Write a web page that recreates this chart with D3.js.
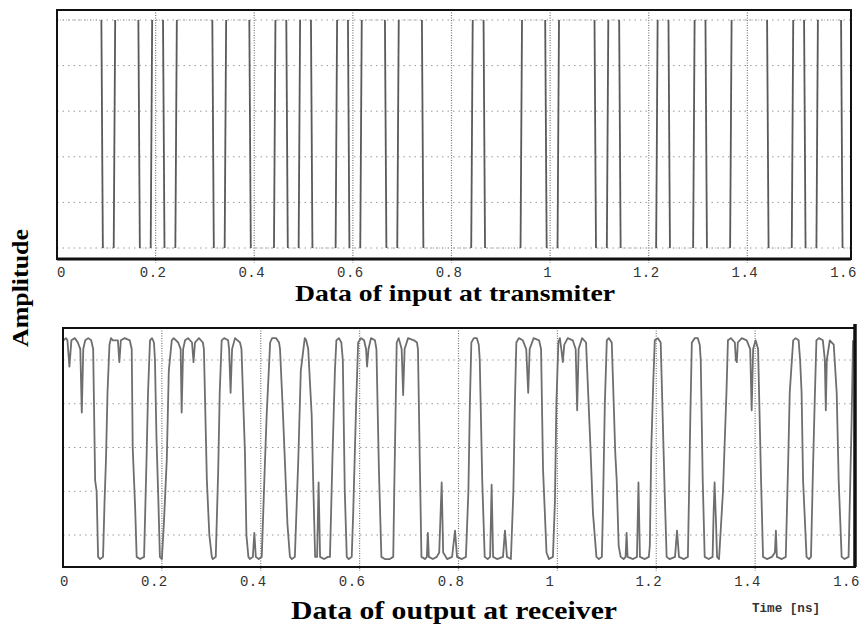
<!DOCTYPE html>
<html>
<head>
<meta charset="utf-8">
<script src="https://cdn.jsdelivr.net/npm/d3@7/dist/d3.min.js"></script>
<style>
  body { margin: 0; background: #fff; }
  svg { display: block; }
</style>
</head>
<body>
<svg id="chart" width="867" height="628"></svg>
<script>
// time axis ticks (ns)
const timeTicks = [0, 0.2, 0.4, 0.6, 0.8, 1, 1.2, 1.4, 1.6];
const timeTickLabels = ["0", "0.2", "0.4", "0.6", "0.8", "1", "1.2", "1.4", "1.6"];

// horizontal grid levels
const inputGridLevels = [0, 0.2, 0.4, 0.6, 0.8, 1];
const outputGridLevels = [0.2, 0.4, 0.6, 0.8, 1];

// transmitter: level starts high, toggles at each edge (ns)
const inputStartLevel = 1;
const inputEdges = [0.090, 0.115, 0.165, 0.190, 0.215, 0.240, 0.315, 0.340, 0.390, 0.440,
    0.465, 0.490, 0.515, 0.565, 0.590, 0.615, 0.665, 0.690, 0.740, 0.840,
    0.865, 0.940, 0.990, 1.015, 1.090, 1.115, 1.140, 1.215, 1.240, 1.290,
    1.315, 1.365, 1.440, 1.490, 1.515, 1.540, 1.590];

// receiver trace [time ns, amplitude]
const outputSamples = [
    [0.001, 1.09], [0.006, 1.10], [0.009, 1.09], [0.013, 0.97], [0.017, 1.09], [0.024, 1.10],
    [0.030, 1.08], [0.035, 1.05], [0.038, 0.76], [0.041, 1.05], [0.045, 1.09], [0.051, 1.10],
    [0.057, 1.09], [0.061, 1.05], [0.065, 0.45], [0.068, 0.40], [0.071, 0.10], [0.075, 0.09],
    [0.081, 0.10], [0.084, 0.35], [0.087, 0.55], [0.090, 0.85], [0.094, 1.07], [0.097, 1.10],
    [0.101, 1.09], [0.111, 1.09], [0.114, 0.99], [0.117, 1.09], [0.125, 1.10], [0.135, 1.09],
    [0.139, 1.05], [0.141, 0.60], [0.146, 0.32], [0.149, 0.10], [0.156, 0.09], [0.164, 0.10],
    [0.169, 0.55], [0.172, 0.85], [0.176, 1.09], [0.180, 1.10], [0.184, 1.08], [0.186, 1.00],
    [0.189, 0.65], [0.193, 0.35], [0.196, 0.10], [0.200, 0.09], [0.204, 0.25], [0.210, 0.55],
    [0.214, 0.95], [0.220, 1.09], [0.224, 1.10], [0.233, 1.08], [0.238, 1.05], [0.240, 0.76],
    [0.243, 1.05], [0.247, 1.09], [0.253, 1.10], [0.261, 1.08], [0.264, 0.99], [0.267, 1.08],
    [0.275, 1.10], [0.283, 1.08], [0.285, 1.05], [0.291, 0.45], [0.296, 0.20], [0.301, 0.10],
    [0.303, 0.09], [0.309, 0.10], [0.314, 0.50], [0.317, 0.85], [0.321, 1.09], [0.326, 1.10],
    [0.334, 1.09], [0.336, 1.05], [0.339, 0.85], [0.342, 1.05], [0.348, 1.10], [0.358, 1.08],
    [0.361, 1.05], [0.368, 0.58], [0.371, 0.20], [0.375, 0.10], [0.378, 0.09], [0.384, 0.10],
    [0.387, 0.21], [0.390, 0.10], [0.396, 0.09], [0.402, 0.10], [0.408, 0.50], [0.412, 0.75],
    [0.419, 1.08], [0.423, 1.10], [0.431, 1.10], [0.437, 1.08], [0.439, 1.05], [0.445, 0.75],
    [0.454, 0.25], [0.459, 0.10], [0.463, 0.09], [0.469, 0.10], [0.476, 0.55], [0.481, 0.95],
    [0.489, 1.10], [0.492, 1.09], [0.496, 1.05], [0.503, 0.75], [0.506, 0.45], [0.510, 0.10],
    [0.514, 0.10], [0.517, 0.44], [0.520, 0.10], [0.528, 0.09], [0.536, 0.10], [0.540, 0.10],
    [0.545, 0.55], [0.550, 0.95], [0.553, 1.09], [0.558, 1.10], [0.563, 1.08], [0.566, 1.00],
    [0.570, 0.40], [0.574, 0.10], [0.578, 0.09], [0.584, 0.10], [0.587, 0.30], [0.593, 0.80],
    [0.597, 1.08], [0.603, 1.10], [0.609, 1.09], [0.613, 1.05], [0.615, 0.97], [0.618, 1.05],
    [0.623, 1.10], [0.631, 1.09], [0.634, 1.05], [0.639, 0.50], [0.644, 0.10], [0.651, 0.09],
    [0.661, 0.09], [0.668, 0.10], [0.670, 0.40], [0.673, 0.80], [0.675, 1.08], [0.679, 1.10],
    [0.685, 1.05], [0.688, 0.84], [0.691, 1.05], [0.698, 1.10], [0.710, 1.09], [0.716, 1.08],
    [0.718, 1.05], [0.722, 0.50], [0.725, 0.10], [0.732, 0.09], [0.736, 0.10], [0.738, 0.21],
    [0.740, 0.10], [0.748, 0.09], [0.756, 0.10], [0.761, 0.12], [0.766, 0.44], [0.769, 0.12],
    [0.777, 0.09], [0.787, 0.10], [0.793, 0.22], [0.797, 0.10], [0.807, 0.09], [0.815, 0.10],
    [0.820, 0.40], [0.823, 0.80], [0.826, 1.08], [0.831, 1.10], [0.837, 1.10], [0.841, 1.07],
    [0.843, 1.00], [0.848, 0.45], [0.853, 0.10], [0.859, 0.09], [0.864, 0.10], [0.867, 0.43],
    [0.870, 0.10], [0.878, 0.09], [0.890, 0.10], [0.894, 0.22], [0.898, 0.10], [0.906, 0.09],
    [0.911, 0.40], [0.914, 0.80], [0.917, 1.08], [0.922, 1.10], [0.930, 1.09], [0.937, 1.05],
    [0.941, 0.85], [0.944, 1.05], [0.952, 1.10], [0.963, 1.09], [0.967, 1.05], [0.971, 0.50],
    [0.978, 0.12], [0.983, 0.09], [0.991, 0.10], [0.995, 0.35], [0.998, 0.80], [1.002, 1.08],
    [1.005, 1.10], [1.008, 1.05], [1.011, 0.99], [1.014, 1.07], [1.021, 1.10], [1.031, 1.09],
    [1.037, 1.05], [1.040, 0.77], [1.043, 1.05], [1.050, 1.10], [1.058, 1.08], [1.066, 0.65],
    [1.072, 0.30], [1.079, 0.10], [1.084, 0.09], [1.090, 0.10], [1.092, 0.30], [1.096, 0.80],
    [1.100, 1.09], [1.104, 1.10], [1.110, 1.08], [1.114, 0.80], [1.117, 0.58], [1.120, 0.45],
    [1.124, 0.15], [1.128, 0.10], [1.134, 0.09], [1.138, 0.10], [1.140, 0.21], [1.142, 0.10],
    [1.153, 0.09], [1.161, 0.10], [1.164, 0.44], [1.167, 0.10], [1.177, 0.09], [1.185, 0.10],
    [1.187, 0.15], [1.190, 0.60], [1.194, 0.90], [1.197, 1.09], [1.203, 1.10], [1.209, 1.08],
    [1.217, 0.40], [1.221, 0.10], [1.227, 0.09], [1.238, 0.10], [1.242, 0.22], [1.246, 0.10],
    [1.256, 0.09], [1.264, 0.10], [1.266, 0.35], [1.269, 0.75], [1.272, 1.08], [1.278, 1.10],
    [1.284, 1.10], [1.288, 1.07], [1.290, 1.00], [1.294, 0.45], [1.298, 0.10], [1.306, 0.09],
    [1.314, 0.10], [1.316, 0.30], [1.318, 0.44], [1.321, 0.25], [1.323, 0.10], [1.327, 0.09],
    [1.335, 0.40], [1.342, 0.85], [1.345, 1.09], [1.351, 1.10], [1.359, 1.08], [1.361, 1.00],
    [1.363, 0.99], [1.365, 1.08], [1.373, 1.10], [1.383, 1.09], [1.390, 1.05], [1.393, 0.77],
    [1.396, 1.05], [1.401, 1.09], [1.406, 1.05], [1.412, 0.45], [1.416, 0.10], [1.424, 0.09],
    [1.434, 0.10], [1.440, 0.12], [1.442, 0.22], [1.444, 0.10], [1.454, 0.09], [1.462, 0.10],
    [1.467, 0.55], [1.470, 0.85], [1.477, 1.09], [1.482, 1.10], [1.488, 1.09], [1.491, 1.00],
    [1.494, 0.85], [1.497, 0.45], [1.504, 0.10], [1.509, 0.09], [1.513, 0.10], [1.517, 0.50],
    [1.521, 0.85], [1.524, 1.09], [1.529, 1.10], [1.537, 1.09], [1.541, 1.00], [1.543, 0.77],
    [1.545, 1.00], [1.551, 1.09], [1.559, 1.07], [1.565, 0.85], [1.569, 0.45], [1.575, 0.10],
    [1.581, 0.09], [1.589, 0.10], [1.595, 0.70], [1.598, 1.09]
];

const svg = d3.select("#chart");

// ---------- panel layout ----------
const boxIn = {left: 57, right: 851, top: 10, bottom: 259};
const boxOut = {left: 63, right: 855, top: 328, bottom: 567};

const xIn = d3.scaleLinear().domain([0, 1.6]).range([57, 846]);
const yIn = d3.scaleLinear().domain([0, 1]).range([248, 20]);
const xOut = d3.scaleLinear().domain([0, 1.6]).range([63, 854]);
const yOut = d3.scaleLinear().domain([0, 1]).range([578.75, 360]);

function drawPanel(box, x, y, levels, labelY, shift, zeroShift) {
    const g = svg.append("g");

    // horizontal dotted grid
    g.selectAll(".hgrid").data(levels).enter().append("line")
        .attr("x1", box.left).attr("x2", box.right)
        .attr("y1", d => y(d)).attr("y2", d => y(d))
        .attr("stroke", "#9a9a9a").attr("stroke-width", 1)
        .attr("stroke-dasharray", "1.5,4");

    // vertical dotted grid at ticks
    g.selectAll(".vgrid").data(timeTicks.slice(1, -1)).enter().append("line")
        .attr("x1", d => x(d)).attr("x2", d => x(d))
        .attr("y1", box.top).attr("y2", box.bottom + 4)
        .attr("stroke", "#777").attr("stroke-width", 1.2)
        .attr("stroke-dasharray", "1,1.5");

    // tick labels
    const axis = d3.axisBottom(x).tickValues(timeTicks)
        .tickFormat((d, i) => timeTickLabels[i]).tickSize(0).tickPadding(0);
    const ag = g.append("g").attr("transform", `translate(0,${labelY})`).call(axis);
    ag.select(".domain").remove();
    ag.selectAll("text")
        .attr("y", 0).attr("dy", 0)
        .attr("dx", d => d === 0 ? zeroShift : shift)
        .attr("font-family", "'Liberation Mono', 'DejaVu Sans Mono', monospace")
        .attr("font-size", 14)
        .attr("letter-spacing", 0.5)
        .attr("fill", "#333");
    return g;
}

const gIn = drawPanel(boxIn, xIn, yIn, inputGridLevels, 277, -3, 4);
const gOut = drawPanel(boxOut, xOut, yOut, outputGridLevels, 586, -8, 1);

// transmitter signal: square wave with short edges
const edgeWidth = 0.003;
let level = inputStartLevel;
const inputPoints = [[0, level]];
inputEdges.forEach(t => {
    inputPoints.push([t, level]);
    level = 1 - level;
    inputPoints.push([t + edgeWidth, level]);
});
inputPoints.push([xIn.invert(boxIn.right - 1), level]);

// flat parts are faint in the scan, edges are dark
gIn.append("path")
    .datum(inputPoints)
    .attr("fill", "none")
    .attr("stroke", "#a8a8a8")
    .attr("stroke-width", 1)
    .attr("stroke-dasharray", "1,2")
    .attr("d", d3.line().x(d => xIn(d[0])).y(d => yIn(d[1])));

gIn.selectAll(".edge").data(inputEdges).enter().append("line")
    .attr("class", "edge")
    .attr("x1", d => xIn(d))
    .attr("x2", d => xIn(d + edgeWidth))
    .attr("y1", (d, i) => yIn((inputStartLevel + i) % 2))
    .attr("y2", (d, i) => yIn((inputStartLevel + i + 1) % 2))
    .attr("stroke", "#5a5a5a")
    .attr("stroke-width", 1.8);

// receiver signal
gOut.append("path")
    .datum(outputSamples)
    .attr("fill", "none")
    .attr("stroke", "#6e6e6e")
    .attr("stroke-width", 1.8)
    .attr("stroke-linejoin", "round")
    .attr("d", d3.line().x(d => xOut(d[0])).y(d => yOut(d[1])));

// frames
[boxIn, boxOut].forEach(b => {
    svg.append("rect")
        .attr("x", b.left).attr("y", b.top)
        .attr("width", b.right - b.left).attr("height", b.bottom - b.top)
        .attr("fill", "none").attr("stroke", "#111").attr("stroke-width", 2);
});
svg.append("line")
    .attr("x1", boxIn.left).attr("x2", boxIn.right)
    .attr("y1", boxIn.bottom).attr("y2", boxIn.bottom)
    .attr("stroke", "#111").attr("stroke-width", 3);
svg.append("line")
    .attr("x1", boxOut.right).attr("x2", boxOut.right)
    .attr("y1", boxOut.top - 4).attr("y2", boxOut.bottom)
    .attr("stroke", "#111").attr("stroke-width", 3.5);

// titles
svg.append("text")
    .attr("x", 455).attr("y", 301)
    .attr("text-anchor", "middle")
    .attr("font-family", "'Liberation Serif', 'DejaVu Serif', serif")
    .attr("font-weight", "bold").attr("font-size", 23)
    .attr("textLength", 320).attr("lengthAdjust", "spacingAndGlyphs")
    .text("Data of input at transmiter");

svg.append("text")
    .attr("x", 454).attr("y", 619)
    .attr("text-anchor", "middle")
    .attr("font-family", "'Liberation Serif', 'DejaVu Serif', serif")
    .attr("font-weight", "bold").attr("font-size", 25)
    .attr("textLength", 326).attr("lengthAdjust", "spacingAndGlyphs")
    .text("Data of output at receiver");

svg.append("text")
    .attr("x", 786).attr("y", 612)
    .attr("text-anchor", "middle")
    .attr("font-family", "'Liberation Mono', 'DejaVu Sans Mono', monospace")
    .attr("font-size", 12)
    .attr("font-weight", "bold")
    .attr("fill", "#333")
    .attr("textLength", 68).attr("lengthAdjust", "spacingAndGlyphs")
    .text("Time [ns]");

svg.append("text")
    .attr("transform", "translate(28,288) rotate(-90)")
    .attr("text-anchor", "middle")
    .attr("font-family", "'Liberation Serif', 'DejaVu Serif', serif")
    .attr("font-weight", "bold").attr("font-size", 24)
    .attr("textLength", 118).attr("lengthAdjust", "spacingAndGlyphs")
    .text("Amplitude");
</script>
</body>
</html>
